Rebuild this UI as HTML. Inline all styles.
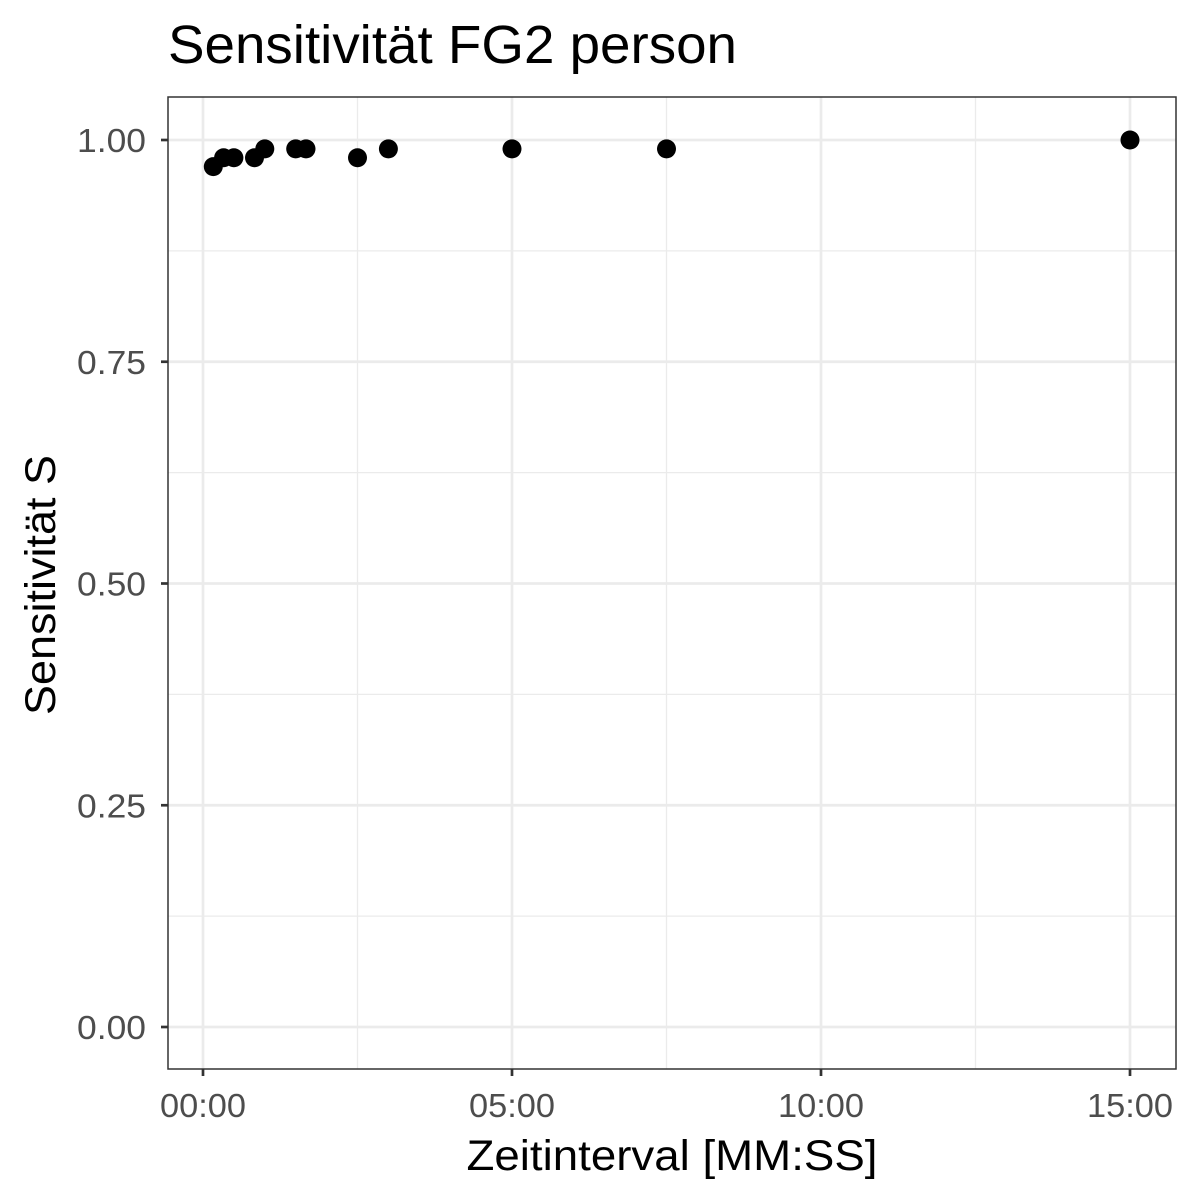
<!DOCTYPE html>
<html><head><meta charset="utf-8"><style>
html,body{margin:0;padding:0;background:#fff;}
svg{display:block;font-family:"Liberation Sans",Arial,sans-serif;}
</style></head><body>
<svg id="chart" width="1200" height="1200" viewBox="0 0 1200 1200">
<rect width="1200" height="1200" fill="#fff"/>
<text x="168" y="63" font-size="54" textLength="569" lengthAdjust="spacingAndGlyphs" fill="#000">Sensitivität FG2 person</text>
<g id="grid"></g>
<g id="points"></g>
<rect x="168" y="97" width="1008" height="972" fill="none" stroke="#333" stroke-width="1.5"/>
<g id="axes"></g>
<text x="672" y="1170" font-size="43" textLength="411" lengthAdjust="spacingAndGlyphs" text-anchor="middle" fill="#000">Zeitinterval [MM:SS]</text>
<text transform="translate(55,585) rotate(-90)" font-size="43" textLength="260" lengthAdjust="spacingAndGlyphs" text-anchor="middle" fill="#000">Sensitivität S</text>
</svg>
<script>
const xSeconds = [10, 20, 30, 50, 60, 90, 100, 150, 180, 300, 450, 900];
const sensitivity = [0.97, 0.98, 0.98, 0.98, 0.99, 0.99, 0.99, 0.98, 0.99, 0.99, 0.99, 1.0];
const xTicks = [0, 300, 600, 900];
const xTickLabels = ["00:00", "05:00", "10:00", "15:00"];
const xMinor = [150, 450, 750];
const yTicks = [0, 0.25, 0.5, 0.75, 1.0];
const yTickLabels = ["0.00", "0.25", "0.50", "0.75", "1.00"];
const yMinor = [0.125, 0.375, 0.625, 0.875];

const NS = "http://www.w3.org/2000/svg";
function xs(v){ return 203 + v * (1130 - 203) / 900; }
function ys(v){ return 1027 - v * (1027 - 140); }
function mk(tag, attrs, parent){
  const e = document.createElementNS(NS, tag);
  for (const k in attrs) e.setAttribute(k, attrs[k]);
  parent.appendChild(e);
  return e;
}
const grid = document.getElementById("grid");
const axes = document.getElementById("axes");
const pts = document.getElementById("points");

xMinor.forEach(v => {
  const l = mk("line", {x1: xs(v), x2: xs(v), y1: 97, y2: 1069, stroke: "#ebebeb", "stroke-width": 1.3}, grid);
  
  
});
yMinor.forEach(v => {
  const l = mk("line", {x1: 168, x2: 1176, y1: ys(v), y2: ys(v), stroke: "#ebebeb", "stroke-width": 1.3}, grid);
  
  
});
xTicks.forEach((v, i) => {
  const l = mk("line", {x1: xs(v), x2: xs(v), y1: 97, y2: 1069, stroke: "#ebebeb", "stroke-width": 2.7}, grid);
  
  
  const t = mk("line", {x1: xs(v), x2: xs(v), y1: 1069, y2: 1076, stroke: "#333", "stroke-width": 2.7}, axes);
  
  
  const tx = mk("text", {x: xs(v), y: 1117, "font-size": 33, textLength: 86, lengthAdjust: "spacingAndGlyphs", "text-anchor": "middle", fill: "#4d4d4d"}, axes);
  tx.textContent = xTickLabels[i];
  
  
});
yTicks.forEach((v, i) => {
  const l = mk("line", {x1: 168, x2: 1176, y1: ys(v), y2: ys(v), stroke: "#ebebeb", "stroke-width": 2.7}, grid);
  
  
  const t = mk("line", {x1: 161, x2: 168, y1: ys(v), y2: ys(v), stroke: "#333", "stroke-width": 2.7}, axes);
  
  
  const tx = mk("text", {x: 146, y: ys(v) + 12, "font-size": 33, textLength: 69, lengthAdjust: "spacingAndGlyphs", "text-anchor": "end", fill: "#4d4d4d"}, axes);
  tx.textContent = yTickLabels[i];
  
  
});
xSeconds.forEach((s, i) => {
  const c = mk("circle", {cx: xs(s), cy: ys(sensitivity[i]), r: 9.5, fill: "#000"}, pts);
  
  
});
</script>
</body></html>
